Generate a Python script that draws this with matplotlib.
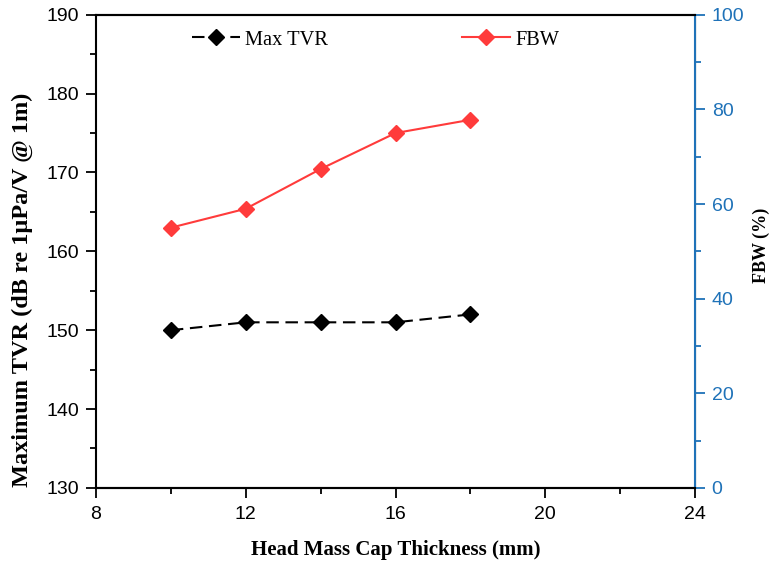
import matplotlib
matplotlib.use("Agg")
import matplotlib.pyplot as plt
from matplotlib.ticker import MultipleLocator

thickness = [10, 12, 14, 16, 18]
max_tvr = [150, 151, 151, 151, 152]
fbw = [55, 59, 67.4, 75, 77.8]

blue = '#1f72b8'
red = '#ff3b3b'

fig = plt.figure(figsize=(7.74, 5.68), dpi=100)
ax = fig.add_axes([0.124, 0.141, 0.774, 0.833])
ax2 = ax.twinx()

l1, = ax.plot(thickness, max_tvr, color='black', ls=(0, (6, 3.2)), lw=1.5,
              marker='D', ms=8, label='Max TVR')
l2, = ax2.plot(thickness, fbw, color=red, lw=1.5, marker='D', ms=8, label='FBW')

ax.set_xlim(8, 24)
ax.set_ylim(130, 190)
ax2.set_ylim(0, 100)
ax.xaxis.set_major_locator(MultipleLocator(4))
ax.xaxis.set_minor_locator(MultipleLocator(2))
ax.yaxis.set_major_locator(MultipleLocator(10))
ax.yaxis.set_minor_locator(MultipleLocator(5))
ax2.yaxis.set_major_locator(MultipleLocator(20))
ax2.yaxis.set_minor_locator(MultipleLocator(10))

for a in (ax, ax2):
    a.tick_params(which='both', direction='out', width=1.3, pad=5)
    a.tick_params(which='major', length=7)
    a.tick_params(which='minor', length=4)
ax.tick_params(axis='x', which='both', pad=6)
for lab in ax.get_xticklabels() + ax.get_yticklabels():
    lab.set_fontfamily('Liberation Sans'); lab.set_fontsize(14)
for lab in ax2.get_yticklabels():
    lab.set_fontfamily('Liberation Sans'); lab.set_fontsize(14); lab.set_color(blue)
ax2.tick_params(axis='y', which='both', colors=blue)

for s in ['left', 'bottom', 'top']:
    ax.spines[s].set_linewidth(1.5)
ax2.spines['right'].set_color(blue)
ax2.spines['right'].set_linewidth(1.5)
ax2.spines['left'].set_visible(False)
ax2.spines['top'].set_linewidth(1.5)
ax2.spines['bottom'].set_linewidth(1.5)

ax.set_xlabel('Head Mass Cap Thickness (mm)',
              fontdict=dict(family='Liberation Serif', size=15, weight='bold'), labelpad=12)
ax.set_ylabel('Maximum TVR (dB re 1μPa/V @ 1m)',
              fontdict=dict(family='Liberation Serif', size=17.5, weight='bold'))
ax.yaxis.set_label_coords(-0.105, 0.419)
ax2.set_ylabel('FBW (%)',
               fontdict=dict(family='Liberation Serif', size=13, weight='bold'))
ax2.yaxis.set_label_coords(1.097, 0.512)

leg = ax2.legend(handles=[l1, l2], loc='upper left', ncol=2, frameon=False,
                 bbox_to_anchor=(0.129, 1.006), columnspacing=6.6, handlelength=2.35,
                 handletextpad=0.25,
                 prop=dict(family='Liberation Serif', size=14.7))

fig.savefig('out.png', dpi=100)
